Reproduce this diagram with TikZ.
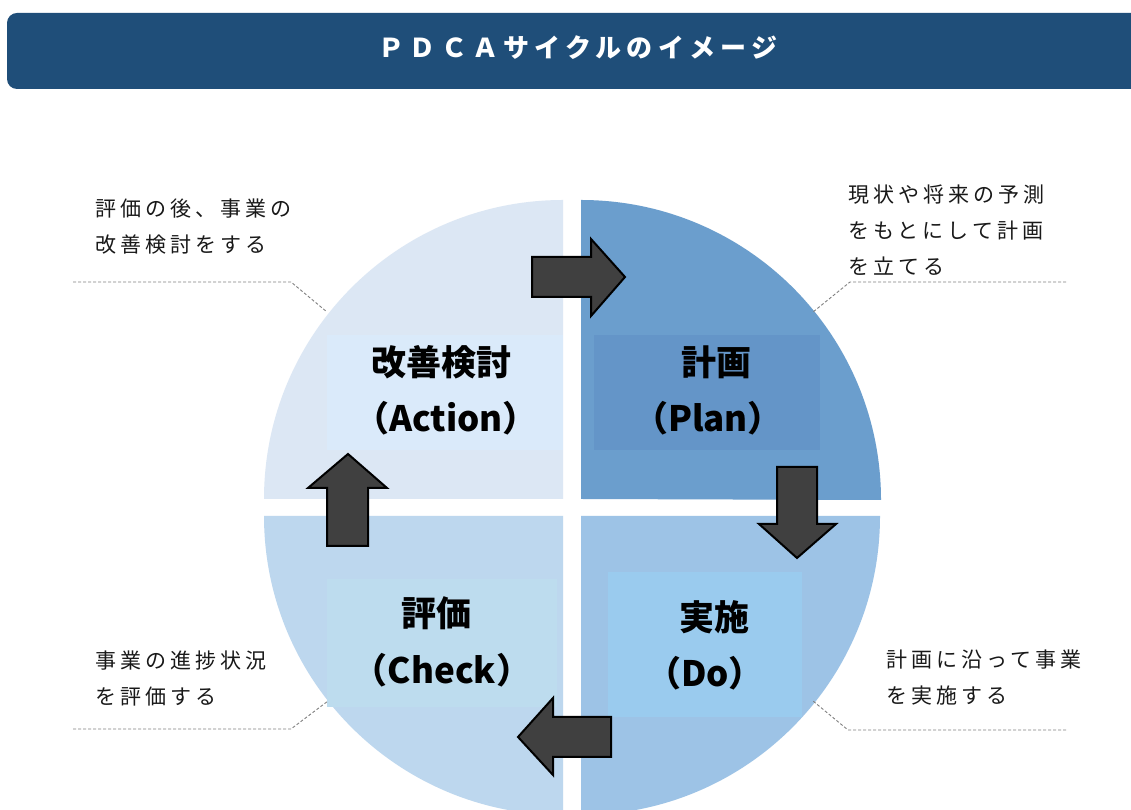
\documentclass[tikz,border=0pt]{standalone}
\usepackage{fontspec}
\newfontfamily\jp{Noto Sans CJK JP}
\newfontfamily\jpsp{Noto Sans CJK JP}[LetterSpace=19]
\newfontfamily\jptitle{Noto Sans CJK JP}[LetterSpace=20]
\definecolor{titlebg}{HTML}{1F4E79}
\definecolor{qtl}{HTML}{DCE7F4}
\definecolor{qtr}{HTML}{6B9ECD}
\definecolor{qbl}{HTML}{BDD7EE}
\definecolor{qbr}{HTML}{9DC3E6}
\definecolor{btl}{HTML}{DAEAFA}
\definecolor{btr}{HTML}{6495C8}
\definecolor{bbl}{HTML}{BDDCEE}
\definecolor{bbr}{HTML}{9ACBEE}
\definecolor{arrowfill}{HTML}{404040}
\definecolor{leader}{HTML}{808080}
\tikzset{
  bigtext/.style={font=\jp\bfseries\fontsize{35}{40}\selectfont, text=black, inner sep=0pt},
  note/.style={font=\jpsp\fontsize{21}{36}\selectfont, text=black!90, align=left, inner sep=0pt, anchor=west},
  flowarrow/.style={fill=arrowfill, draw=black, line width=2pt, line join=miter},
  leaderline/.style={draw=leader, line width=0.9pt, dash pattern=on 3pt off 2pt}
}
\begin{document}
\begin{tikzpicture}[x=1pt,y=1pt]
\clip (0,0) rectangle (1131,810);
\fill[white] (0,0) rectangle (1131,810);
% title bar
\fill[titlebg, rounded corners=10pt] (7,721) rectangle (1160,797);
\node[font=\jptitle\bfseries\fontsize{26}{30}\selectfont, text=white, inner sep=0pt] (title) at (578,762) {ＰＤＣＡサイクルのイメージ};
% quadrants
\fill[qtl] (563,311) -- (264,311) arc[start angle=180, end angle=90, radius=299pt] -- cycle;
\fill[qtr] (581,311) -- (581,610) arc[start angle=90, end angle=0, radius=300pt] -- cycle;
\fill[qbl] (563,294) -- (264,294) arc[start angle=180, end angle=270, radius=299pt] -- cycle;
\fill[qbr] (581,294) -- (880,294) arc[start angle=0, end angle=-90, radius=299pt] -- cycle;
% label boxes
\fill[btl] (327,360) rectangle (563,475);
\fill[btr] (594,360) rectangle (820,475);
\fill[bbl] (327,103) rectangle (557,231);
\fill[bbr] (608,93) rectangle (802,238);
% labels
\node[bigtext] (actA) at (441,448) {改善検討};
\node[bigtext] (actB) at (446,392) {（Action）};
\node[bigtext] (planA) at (716,448) {計画};
\node[bigtext] (planB) at (708,392) {（Plan）};
\node[bigtext] (chkA) at (436,197) {評価};
\node[bigtext] (chkB) at (442,140) {（Check）};
\node[bigtext] (doA) at (714,193) {実施};
\node[bigtext] (doB) at (705,137) {（Do）};
% arrows
\draw[flowarrow] (532,553) -- (591,553) -- (591,571) -- (625,533) -- (591,494) -- (591,513) -- (532,513) -- cycle;
\draw[flowarrow] (777,343) -- (817,343) -- (817,286) -- (836,286) -- (797,252) -- (759,286) -- (777,286) -- cycle;
\draw[flowarrow] (611,93) -- (553,93) -- (553,112) -- (518,73) -- (553,35) -- (553,53) -- (611,53) -- cycle;
\draw[flowarrow] (327,264) -- (368,264) -- (368,322) -- (387,322) -- (348,356) -- (308,322) -- (327,322) -- cycle;
% notes
\node[note] (noteA) at (95,583.5) {評価の後、事業の\\改善検討をする};
\node[note] (noteP) at (848,580) {現状や将来の予測\\をもとにして計画\\を立てる};
\node[note] (noteC) at (95,131.5) {事業の進捗状況\\を評価する};
\node[note] (noteD) at (886,132.5) {計画に沿って事業\\を実施する};
% leader lines
\coordinate (lA1) at (73,528); \coordinate (lA2) at (291,528); \coordinate (lA3) at (327,498);
\coordinate (lP1) at (1066,528); \coordinate (lP2) at (850,528); \coordinate (lP3) at (813,498);
\coordinate (lC1) at (73,81); \coordinate (lC2) at (291,81); \coordinate (lC3) at (328,109);
\coordinate (lD1) at (1066,80); \coordinate (lD2) at (848,80); \coordinate (lD3) at (813,109);
\draw[leaderline] (lA1) -- (lA2) -- (lA3);
\draw[leaderline] (lP1) -- (lP2) -- (lP3);
\draw[leaderline] (lC1) -- (lC2) -- (lC3);
\draw[leaderline] (lD1) -- (lD2) -- (lD3);
\end{tikzpicture}
\end{document}
